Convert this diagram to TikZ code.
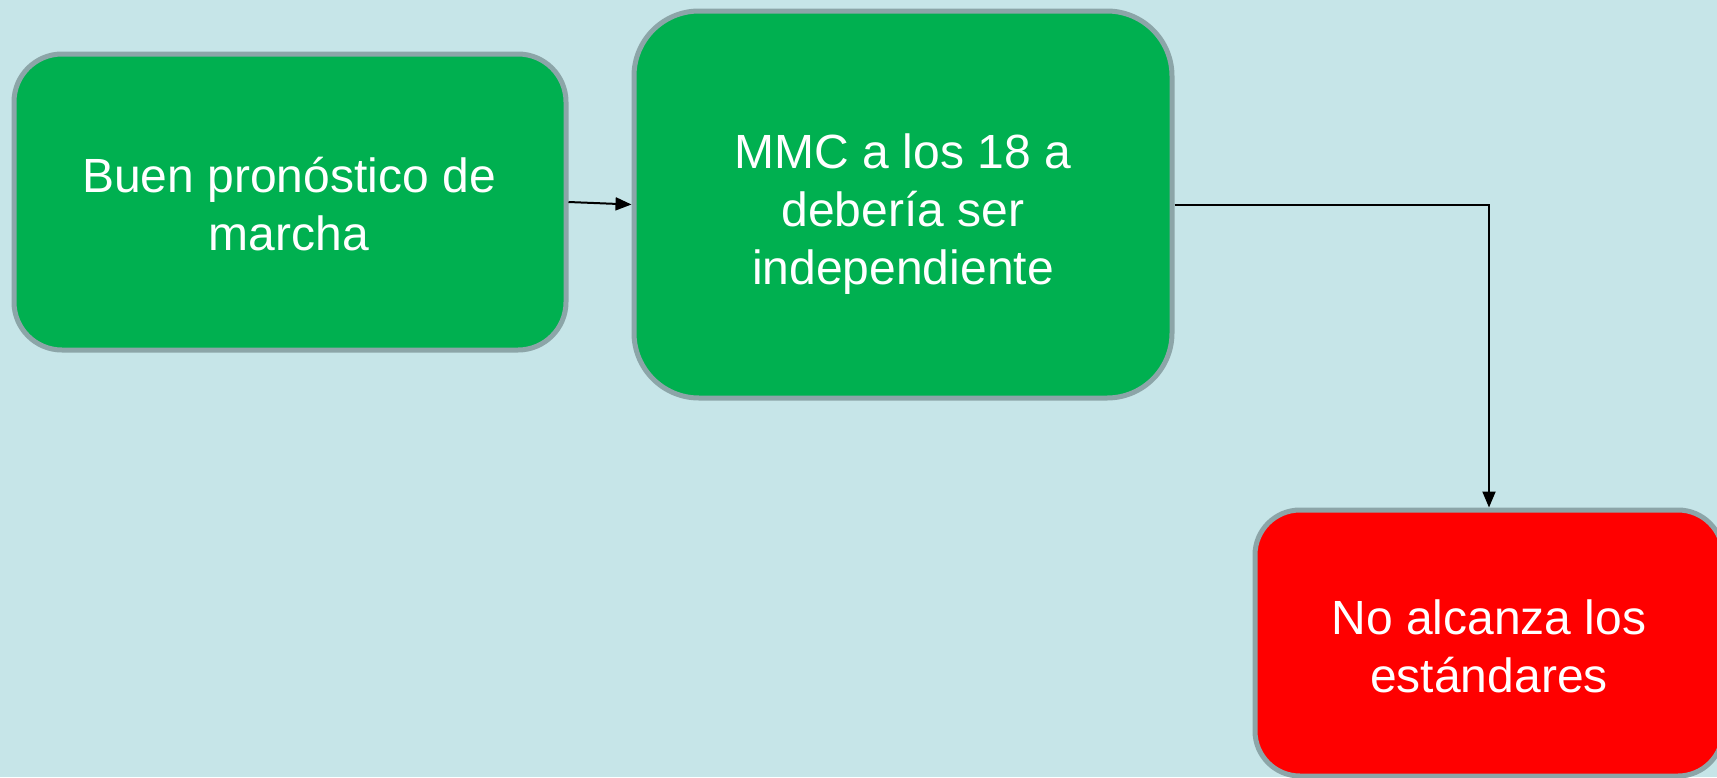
\documentclass[tikz,border=0pt]{standalone}
\usepackage{fontspec}
\setmainfont{Liberation Sans}
\usetikzlibrary{arrows.meta}
\definecolor{bgc}{HTML}{C6E5E8}
\definecolor{boxgreen}{HTML}{00B050}
\definecolor{boxred}{HTML}{FF0000}
\definecolor{bordc}{HTML}{8CA5A8}
\tikzset{
  card/.style={draw=bordc, line width=5pt, inner sep=0pt},
  cardtext/.style={text=white, align=center, inner sep=0pt,
    font=\fontsize{48}{58}\selectfont},
  conn/.style={draw=black, line width=2pt, -{Triangle[length=16pt,width=13pt]}}
}
\begin{document}
\begin{tikzpicture}[x=1pt,y=-1pt]
\fill[bgc] (0,0) rectangle (1717,777);
\useasboundingbox (0,0) rectangle (1717,777);
\node[card, fill=boxgreen, rounded corners=48pt, minimum width=552pt, minimum height=296pt] (b1) at (290,202) {};
\node[card, fill=boxgreen, rounded corners=65pt, minimum width=538pt, minimum height=387pt] (b2) at (903,204.5) {};
\node[card, fill=boxred, rounded corners=45pt, minimum width=468pt, minimum height=266pt] (b3) at (1489,643) {};
\node[cardtext] (t1) at (289,204) {Buen pronóstico de\\marcha};
\node[cardtext] (t2) at (903,214) {MMC a los 18 a\\debería ser\\independiente};
\node[cardtext] (t3) at (1489,646) {No alcanza los\\estándares};
\draw[conn] (b1.east) -- (b2.west);
\draw[conn] (b2.east |- 0,205) -| (b3.north);
\end{tikzpicture}
\end{document}
